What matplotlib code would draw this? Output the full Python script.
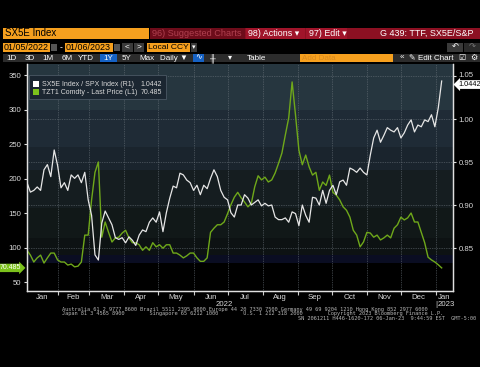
import numpy as np
import pandas as pd
import matplotlib
matplotlib.use('Agg')
import matplotlib.pyplot as plt
from matplotlib.patches import Rectangle
import matplotlib.transforms as mtrans

plt.rcParams['font.family'] = ['Liberation Sans', 'DejaVu Sans']

# ---- data (every 3rd calendar day) ----
dates = pd.date_range('2022-01-05', periods=123, freq='3D')

# SX5E Index / SPX Index (right axis)
ratio = [0.926, 0.915, 0.917, 0.921, 0.917, 0.941, 0.947, 0.933, 0.964, 0.946,
         0.920, 0.926, 0.917, 0.935, 0.931, 0.935, 0.926, 0.938, 0.906, 0.888,
         0.842, 0.836, 0.879, 0.893, 0.885, 0.877, 0.862, 0.860, 0.862, 0.856,
         0.863, 0.859, 0.853, 0.865, 0.871, 0.869, 0.880, 0.885, 0.880, 0.892,
         0.869, 0.891, 0.908, 0.922, 0.920, 0.937, 0.935, 0.929, 0.926, 0.917,
         0.923, 0.912, 0.923, 0.919, 0.931, 0.941, 0.933, 0.917, 0.909, 0.906,
         0.891, 0.886, 0.900, 0.900, 0.912, 0.908, 0.900, 0.903, 0.906, 0.899,
         0.902, 0.899, 0.900, 0.886, 0.883, 0.883, 0.885, 0.880, 0.892, 0.890,
         0.876, 0.900, 0.888, 0.880, 0.909, 0.908, 0.900, 0.917, 0.902, 0.917,
         0.923, 0.912, 0.927, 0.929, 0.923, 0.943, 0.941, 0.938, 0.943, 0.938,
         0.935, 0.958, 0.978, 0.987, 0.973, 0.981, 0.990, 0.987, 0.985, 0.990,
         0.978, 0.984, 0.993, 0.999, 0.985, 0.993, 0.991, 0.999, 0.997, 1.005,
         0.991, 1.013, 1.0442]

# TZT1 Comdty - Last Price (left axis)
ttf = [96, 89, 79, 85, 89, 77.5, 85, 92, 92, 82,
       79, 79, 74.6, 76, 72, 73, 79, 118, 118, 169,
       209, 224, 115, 137, 122, 108, 114, 115, 121, 125,
       114, 107, 107, 104, 96, 101, 96, 107, 101, 104,
       99, 104, 104, 92, 92, 89, 85, 88, 92, 92,
       85, 80, 80, 85, 122, 128, 133, 133, 137, 149,
       162, 173, 180, 172, 166, 159, 164, 188, 204, 198,
       202, 195, 198, 208, 222, 237, 263, 288, 340, 292,
       241, 220, 234, 217, 205, 209, 183, 195, 190, 205,
       180, 176, 169, 159, 154, 144, 125, 118, 101, 108,
       122, 121, 115, 118, 111, 114, 118, 114, 128, 133,
       144, 140, 143, 150, 137, 137, 122, 107, 86, 82,
       79, 75, 70.485]

month_labels = ['Jan', 'Feb', 'Mar', 'Apr', 'May', 'Jun', 'Jul', 'Aug', 'Sep',
                'Oct', 'Nov', 'Dec', 'Jan']
left_ticks = [50, 100, 150, 200, 250, 300, 350]
right_ticks = [0.85, 0.90, 0.95, 1.00, 1.05]

W, H = 485, 373
TXT = '#d9d9d9'
ORANGE = '#f6a01e'
GREEN = '#6fa81a'
MONO = 'DejaVu Sans Mono'


def fx(x):
    return x / W


def fy(y):
    return 1 - y / H


def box(x0, y0, x1, y1, color):
    fig.patches.append(Rectangle((fx(x0), fy(y1)), (x1 - x0) / W, (y1 - y0) / H,
                                 transform=fig.transFigure, fc=color, ec='none'))


def label(x, y, s, size=6.5, color='white', ha='left', **kw):
    fig.text(fx(x), fy(y), s, fontsize=size, color=color, ha=ha, va='center', **kw)


fig = plt.figure(figsize=(W / 100, H / 100), dpi=100, facecolor='black')

# ---- header rows ----
box(3, 28, 149, 39, ORANGE)
label(5, 33.5, 'SX5E Index', 7, 'black')
box(150, 28, 480, 39, '#8c1022')
box(150, 28, 245, 39, '#6d0c1a')
label(152, 33.5, '96) Suggested Charts', 6.6, '#b0404f')
box(246, 28, 305, 39, '#a0142a')
label(248, 33.5, '98) Actions \u25be', 6.4)
box(306, 28, 347, 39, '#a0142a')
label(309, 33.5, '97) Edit \u25be', 6.4)
label(474, 33.5, 'G 439: TTF, SX5E/S&P', 6.5, ha='right')

box(3, 43, 50, 52, ORANGE)
label(4, 47.5, '01/05/2022', 6.4, 'black')
box(51, 44, 57, 51, '#555555')
label(60, 47.5, '-', 6.2)
box(65, 43, 113, 52, ORANGE)
label(66, 47.5, '01/06/2023', 6.4, 'black')
box(114, 44, 120, 51, '#555555')
box(122, 43, 133, 52, '#3a3a3a')
label(127.5, 47.5, '<', 6, ha='center')
box(134, 43, 144, 52, '#3a3a3a')
label(139, 47.5, '>', 6, ha='center')
box(147, 43, 190, 52, ORANGE)
label(148, 47.5, 'Local CCY', 6.1, 'black')
box(191, 43, 197, 52, '#3a3a3a')
label(194, 47.5, '\u25be', 5, ha='center')
box(447, 43, 463, 52, '#3a3a3a')
label(455, 47.5, '\u21b6', 6, ha='center')
box(464, 43, 480, 52, '#2a2a2a')
label(472, 47.5, '\u21b7', 6, '#777777', ha='center')

box(3, 54, 480, 62, '#2c2c2c')
for xx, s in [(12, '1D'), (30, '3D'), (48, '1M'), (67, '6M'), (86, 'YTD'),
              (126, '5Y'), (147, 'Max'), (174, 'Daily \u25bc'), (213, '\u256b'),
              (230, '\u25be'), (256, 'Table'), (402, '\u00ab'),
              (431, '\u270e Edit Chart'), (462, '\u2611'), (474, '\u2699')]:
    label(xx, 58, s, 5.8, ha='center')
box(100, 54, 117, 62, '#1662c4')
label(108.5, 58, '1Y', 5.8, ha='center')
box(193, 54, 204, 62, '#1662c4')
label(198.5, 58, '\u223f', 5.8, ha='center')
box(300, 54, 393, 62, ORANGE)
label(302, 58, 'Add Data', 5.8, '#d88a20')

# white border of the screenshot
box(0, 367, 485, 373, 'white')
box(480, 0, 485, 373, 'white')

# ---- chart ----
ax = fig.add_axes([fx(27), fy(291), (453 - 27) / W, (291 - 64) / H])
ax.set_facecolor('black')
bands = [(64, 110, '#26363f'), (110, 147, '#1f2b36'), (147, 170, '#1a242d'),
         (170, 208, '#151d20'), (208, 238, '#111818'), (238, 255, '#0d1213'),
         (255, 263, '#0a0d22')]
for y0, y1, c in bands:
    ax.add_patch(Rectangle((0, (291 - y1) / 227), 1, (y1 - y0) / 227,
                           transform=ax.transAxes, fc=c, ec='none', zorder=0))

ax2 = ax.twinx()
ax.plot(dates, ttf, color=GREEN, lw=1.0, zorder=3)
ax2.plot(dates, ratio, color='#e6e6e6', lw=0.9, zorder=3)

x0, x1 = pd.Timestamp('2022-01-05'), pd.Timestamp('2023-01-16')
ax.set_xlim(x0, x1)
ax.set_ylim(37, 366)
ax2.set_ylim(0.80, 1.064)

# month grid and labels
month_starts = pd.date_range('2022-02-01', '2023-01-01', freq='MS')
bounds = [x0] + list(month_starts) + [x1]
mids = [a + (b - a) / 2 for a, b in zip(bounds[:-1], bounds[1:])]
ax.set_xticks(month_starts)
ax.set_xticklabels([])
ax.set_xticks(mids, minor=True)
ax.set_xticklabels(month_labels, minor=True)
ax.tick_params(axis='x', which='major', length=3, color='#cccccc', direction='out')
ax.tick_params(axis='x', which='minor', length=0, pad=2, labelsize=5.6,
               labelcolor=TXT)
for m in month_starts:
    ax.axvline(m, color='#6b747c', lw=0.5, ls=(0, (1, 1.5)), zorder=1)

ax.set_yticks(left_ticks)
ax.tick_params(axis='y', length=2.5, width=0.8, color='#dddddd', pad=1.5,
               labelsize=5.6, labelcolor=TXT)
ax2.set_yticks(right_ticks)
ax2.set_yticklabels(['%.2f' % v for v in right_ticks])
ax2.tick_params(axis='y', length=2.5, width=0.8, color='#dddddd', pad=1.5,
                labelsize=5.6, labelcolor=TXT)
# top label sits half under the last-value tag, nudge it up a little
top_lbl = ax2.get_yticklabels()[-1]
top_lbl.set_transform(top_lbl.get_transform() +
                      mtrans.ScaledTranslation(0, 2 / 100, fig.dpi_scale_trans))
for v in right_ticks:
    ax.axhline(np.interp(v, [0.80, 1.064], [37, 366]), color='#6b747c', lw=0.5,
               ls=(0, (1, 1.5)), zorder=1)

for a in (ax, ax2):
    a.spines['top'].set_visible(False)
    for s in ('left', 'right', 'bottom'):
        a.spines[s].set_color('#e0e0e0')
        a.spines[s].set_linewidth(0.9)

# last value tags
blend2 = mtrans.blended_transform_factory(ax2.transAxes, ax2.transData)
ax2.text(1.012, ratio[-1], '%.4f' % ratio[-1], transform=blend2, fontsize=5.3,
         color='black', va='top', ha='left', zorder=20,
         clip_on=False, bbox=dict(boxstyle='larrow,pad=0.12', fc='white', ec='none'))
blend1 = mtrans.blended_transform_factory(ax.transAxes, ax.transData)
ax.text(-0.014, ttf[-1], '%.3f' % ttf[-1], transform=blend1, fontsize=5.0,
        color='white', va='center', ha='right', zorder=20,
        clip_on=False, bbox=dict(boxstyle='rarrow,pad=0.1', fc='#7cc21c', ec='none'))

# legend
ax2.add_patch(Rectangle((fx(29), fy(99)), 137 / W, 24 / H, transform=fig.transFigure,
                        fc='#1b2631', ec='#4a5864', lw=0.6, zorder=15, clip_on=False))
for yy, c, name, val in [(84, 'white', 'SX5E Index / SPX Index (R1)', '%.4f' % ratio[-1]),
                         (92, '#7cc21c', 'TZT1 Comdty - Last Price (L1)', '%.3f' % ttf[-1])]:
    ax2.add_patch(Rectangle((fx(33), fy(yy + 3)), 6 / W, 6 / H, transform=fig.transFigure,
                            fc=c, ec='none', zorder=16, clip_on=False))
    ax2.text(fx(42), fy(yy), name, transform=fig.transFigure, fontsize=5.0, color=TXT,
             va='center', zorder=16)
    ax2.text(fx(162), fy(yy), val, transform=fig.transFigure, fontsize=5.0, color=TXT,
             va='center', ha='right', zorder=16)

# year labels and footer
label(224, 304, '2022', 5.6, TXT, ha='center')
label(436, 304, '|', 5.6, TXT, ha='center')
label(446, 304, '2023', 5.6, TXT, ha='center')
label(62, 309, 'Australia 61 2 9777 8600 Brazil 5511 2395 9000 Europe 44 20 7330 7500 '
      'Germany 49 69 9204 1210 Hong Kong 852 2977 6000', 3.75, '#b5b5b5', family=MONO)
label(62, 313.5, 'Japan 81 3 4565 8900        Singapore 65 6212 1000        '
      'U.S. 1 212 318 2000        Copyright 2023 Bloomberg Finance L.P.', 3.75,
      '#b5b5b5', family=MONO)
label(476, 318, 'SN 2061211 H446-1620-172 06-Jan-23  9:44:59 EST  GMT-5:00', 3.75,
      '#b5b5b5', ha='right', family=MONO)

fig.savefig('out.png', dpi=100, facecolor='black')
